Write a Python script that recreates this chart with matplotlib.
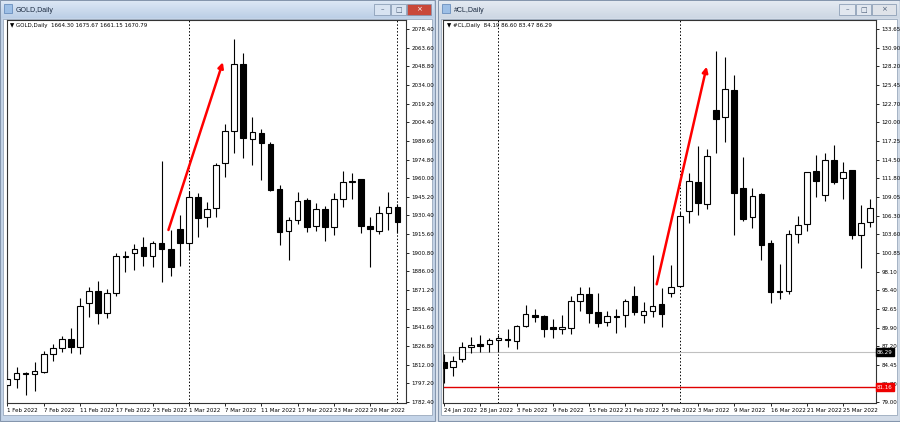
import numpy as np
import matplotlib
matplotlib.use('Agg')
import matplotlib.pyplot as plt
from matplotlib.patches import Rectangle
from matplotlib.colors import LinearSegmentedColormap

# GOLD daily, 1 Feb 2022 .. 1 Apr 2022 (bar index 0..43)
gold_open = [1795.9, 1800.4, 1805.8, 1804.4, 1806.4, 1820.2, 1825.0, 1832.4, 1826.3, 1860.7,
             1870.7, 1852.8, 1869.1, 1898.5, 1900.4, 1905.6, 1898.3, 1908.8, 1904.0, 1919.7,
             1908.3, 1944.8, 1929.0, 1936.1, 1971.8, 1997.5, 2050.4, 1991.1, 1996.1, 1987.1,
             1951.2, 1918.1, 1926.8, 1942.7, 1922.1, 1935.3, 1921.0, 1943.3, 1956.7, 1959.1,
             1922.3, 1918.3, 1932.1, 1936.9]
gold_high = [1807.8, 1809.9, 1806.0, 1813.9, 1822.9, 1828.2, 1835.0, 1841.4, 1864.7, 1873.9,
             1878.7, 1871.8, 1900.9, 1902.5, 1907.5, 1913.6, 1910.2, 1973.9, 1918.9, 1930.8,
             1949.8, 1948.0, 1940.9, 1971.8, 2002.8, 2070.5, 2059.1, 2008.8, 1999.0, 1989.0,
             1954.6, 1929.4, 1949.3, 1944.5, 1940.6, 1938.2, 1948.0, 1965.7, 1963.9, 1959.1,
             1929.0, 1938.2, 1949.3, 1939.5]
gold_low = [1794.5, 1793.3, 1787.9, 1791.4, 1805.2, 1814.9, 1822.3, 1821.0, 1820.2, 1850.1,
            1844.1, 1849.3, 1866.7, 1885.8, 1887.1, 1890.6, 1889.3, 1877.9, 1882.6, 1890.3,
            1903.0, 1913.6, 1921.5, 1929.4, 1960.7, 1980.2, 1975.8, 1970.5, 1958.6, 1950.1,
            1907.0, 1895.1, 1923.6, 1917.5, 1918.1, 1910.4, 1914.9, 1937.4, 1943.3, 1916.7,
            1889.8, 1915.7, 1918.9, 1916.3]
gold_close = [1800.4, 1805.6, 1804.4, 1807.0, 1820.2, 1825.5, 1832.4, 1826.3, 1858.6, 1870.7,
              1852.8, 1869.1, 1898.3, 1897.5, 1903.6, 1898.3, 1908.3, 1903.6, 1889.3, 1908.3,
              1944.8, 1928.2, 1935.3, 1970.5, 1997.5, 2050.4, 1991.7, 1996.4, 1988.2, 1950.6,
              1917.5, 1926.8, 1942.1, 1921.0, 1935.3, 1921.0, 1943.5, 1957.2, 1958.0, 1922.3,
              1919.4, 1932.1, 1936.9, 1925.0]
gold_dates = ['1 Feb 2022', '7 Feb 2022', '11 Feb 2022', '17 Feb 2022', '23 Feb 2022', '1 Mar 2022',
              '7 Mar 2022', '11 Mar 2022', '17 Mar 2022', '23 Mar 2022', '29 Mar 2022']
gold_prices = ['1782.40', '1797.20', '1812.00', '1826.80', '1841.60', '1856.40', '1871.20',
               '1886.00', '1900.80', '1915.60', '1930.40', '1945.20', '1960.00', '1974.80',
               '1989.60', '2004.40', '2019.20', '2034.00', '2048.80', '2063.60', '2078.40']
gold_seps = [20, 43]
gold_arrow = [(17.75, 1918.9), (23.75, 2052.0)]

# #CL daily, 24 Jan 2022 .. end of Mar 2022 (bar index 0..47)
cl_open = [84.81, 84.08, 85.25, 87.06, 87.50, 87.45, 88.08, 88.27, 87.94, 90.13,
           91.75, 91.60, 89.99, 89.74, 89.88, 93.84, 94.82, 92.14, 90.76, 91.60,
           91.70, 94.53, 91.70, 92.38, 93.31, 94.92, 96.04, 107.03, 111.28, 108.01,
           121.78, 120.71, 124.71, 110.40, 106.06, 109.43, 102.25, 95.31, 95.31, 103.57,
           105.08, 112.84, 109.33, 114.46, 111.82, 112.95, 103.47, 105.42]
cl_high = [86.03, 85.74, 87.83, 88.48, 88.77, 88.33, 88.81, 89.65, 90.32, 93.17,
           92.58, 91.75, 91.12, 91.75, 94.57, 95.80, 95.80, 95.01, 92.33, 92.62,
           94.13, 95.99, 93.69, 100.54, 95.66, 99.03, 106.88, 112.51, 116.51, 116.02,
           130.47, 129.50, 126.91, 114.94, 110.31, 109.58, 102.73, 99.17, 104.20, 106.25,
           112.74, 115.19, 115.53, 116.61, 114.12, 112.95, 107.86, 108.74]
cl_low = [81.74, 82.85, 84.90, 86.13, 86.37, 86.32, 86.37, 87.10, 86.72, 89.94,
          90.76, 88.48, 88.42, 88.92, 88.92, 92.38, 90.62, 89.94, 90.13, 89.06,
          90.03, 91.75, 90.62, 91.41, 90.03, 94.43, 95.80, 105.18, 106.40, 107.23,
          115.53, 117.14, 103.47, 105.52, 104.45, 99.80, 93.46, 94.05, 94.82, 102.34,
          104.05, 108.99, 108.45, 110.94, 108.70, 102.84, 98.59, 104.60]
cl_close = [84.02, 85.05, 87.10, 87.31, 87.25, 88.08, 88.37, 88.04, 90.18, 91.89,
            91.50, 89.74, 89.74, 89.99, 93.80, 94.78, 92.08, 90.53, 91.64, 91.45,
            93.84, 92.23, 92.33, 93.02, 91.89, 95.80, 106.29, 111.38, 108.11, 115.04,
            120.42, 124.81, 109.58, 105.85, 109.14, 102.00, 95.16, 95.16, 103.57, 104.93,
            112.65, 111.38, 114.41, 111.28, 112.65, 103.47, 105.18, 107.38]
cl_dates = ['24 Jan 2022', '28 Jan 2022', '3 Feb 2022', '9 Feb 2022', '15 Feb 2022', '21 Feb 2022',
            '25 Feb 2022', '3 Mar 2022', '9 Mar 2022', '16 Mar 2022', '21 Mar 2022', '25 Mar 2022']
cl_prices = ['79.00', '81.70', '84.45', '87.20', '89.90', '92.65', '95.40', '98.10', '100.85',
             '103.60', '106.30', '109.05', '111.80', '114.50', '117.25', '120.00', '122.70',
             '125.45', '128.20', '130.90', '133.65']
cl_seps = [6, 26]
cl_arrow = [(23.45, 96.24), (28.96, 128.13)]
cl_bid = 86.29
cl_level = 81.16

SMALL = ['Liberation Sans Narrow', 'DejaVu Sans']
FS = 4.0

fig = plt.figure(figsize=(9, 4.22), dpi=100, facecolor='#dfe7f1')

# window chrome, drawn in pixel coordinates
bg = fig.add_axes([0, 0, 1, 1])
bg.axis('off')


def window(x0, x1, title, active):
    frame = '#c4d4e8' if active else '#d3dce8'
    bg.add_patch(Rectangle((x0, 0), x1 - x0, 421, facecolor=frame, edgecolor='#8596ad', lw=0.8))
    if active:
        cm = LinearSegmentedColormap.from_list('t', ['#dce7f5', '#bccfe6'])
    else:
        cm = LinearSegmentedColormap.from_list('t', ['#e4eaf2', '#cdd7e3'])
    grad = np.linspace(0, 1, 30).reshape(-1, 1)
    bg.imshow(grad, cmap=cm, extent=(x0 + 1, x1 - 1, 18, 1), aspect='auto', zorder=1)
    bg.add_patch(Rectangle((x0 + 3, 19), x1 - x0 - 6, 396, facecolor='white',
                           edgecolor='#9aa9bd', lw=0.6, zorder=2))
    # icon + title
    bg.add_patch(Rectangle((x0 + 4, 4), 8, 9, facecolor='#9dbfe6', edgecolor='#5a82b5', lw=0.5, zorder=3))
    bg.text(x0 + 16, 10, title, fontsize=5, va='center', color='#1b2a40',
            family=['Liberation Sans', 'DejaVu Sans'], zorder=3)
    # min / max / close buttons
    btn = '#d8e3f1' if active else '#e1e7ef'
    close = '#c9483a' if active else '#dfe3e9'
    for bx, bw, fc, glyph in [(x1 - 61, 16, btn, '\u2013'), (x1 - 44, 15, btn, '\u25a1'),
                              (x1 - 28, 24, close, '\u00d7')]:
        bg.add_patch(Rectangle((bx, 4), bw, 11, facecolor=fc, edgecolor='#7f93ad', lw=0.5, zorder=3))
        bg.text(bx + bw / 2, 9.6, glyph, fontsize=5, ha='center', va='center', zorder=4,
                color='white' if (active and fc == close) else '#4a5d78')


window(0, 435, 'GOLD,Daily', True)
window(438, 900, '#CL,Daily', False)
bg.set_xlim(0, 900)
bg.set_ylim(422, 0)


def candles(ax, o, h, l, c, dates, prices, seps, info, arrow):
    o, h, l, c = map(np.array, (o, h, l, c))
    x = np.arange(len(o))
    ax.vlines(x, l, h, colors='black', lw=0.8, zorder=2)
    face = np.where(c >= o, 'white', 'black')
    ax.bar(x, np.abs(c - o), bottom=np.minimum(o, c), width=0.62, color=face,
           edgecolor='black', lw=0.8, zorder=3)
    for s in seps:
        ax.axvline(s, color='black', lw=0.7, linestyle=(0, (1.5, 2)), zorder=1)
    ax.set_xticks(x[::4][:len(dates)])
    ax.set_xticklabels(dates, ha='left', family=SMALL, fontsize=FS)
    ax.yaxis.tick_right()
    ax.set_yticks([float(p) for p in prices])
    ax.set_yticklabels(prices, family=SMALL, fontsize=FS)
    ax.tick_params(axis='x', length=2, width=0.6, pad=1.5)
    ax.tick_params(axis='y', length=2.5, width=0.6, pad=1.5)
    for sp in ax.spines.values():
        sp.set_color('#333333')
        sp.set_linewidth(0.8)
    ax.text(0.008, 0.992, info, transform=ax.transAxes, va='top', ha='left',
            fontsize=FS, family=SMALL)
    ax.annotate('', xy=arrow[1], xytext=arrow[0],
                arrowprops=dict(arrowstyle='-|>', color='#ff0000', lw=1.8, mutation_scale=8,
                                shrinkA=0, shrinkB=0), zorder=5)


axL = fig.add_axes([7 / 900, 19 / 422, 398.7 / 900, 383 / 422])
candles(axL, gold_open, gold_high, gold_low, gold_close, gold_dates, gold_prices, gold_seps,
        '\u25bc GOLD,Daily  1664.30 1675.67 1661.15 1670.79', gold_arrow)
axL.set_xlim(-0.05, 43.91)
axL.set_ylim(1781.6, 2085.5)

axR = fig.add_axes([443.3 / 900, 19 / 422, 432.4 / 900, 383 / 422])
candles(axR, cl_open, cl_high, cl_low, cl_close, cl_dates, cl_prices, cl_seps,
        '\u25bc #CL,Daily  84.19 86.60 83.47 86.29', cl_arrow)
axR.set_xlim(-0.08, 47.6)
axR.set_ylim(78.85, 134.97)
axR.axhline(cl_bid, color='#c0c0c0', lw=0.8, zorder=1)
axR.axhline(cl_level, color='#e00000', lw=1.0, zorder=1)
for val, fc in [(cl_bid, 'black'), (cl_level, '#ee0000')]:
    axR.text(1.003, val, f'{val:.2f}', transform=axR.get_yaxis_transform(), ha='left', va='center',
             fontsize=FS, family=SMALL, color='white', zorder=6, clip_on=False,
             bbox=dict(facecolor=fc, edgecolor=fc, pad=0.9))

fig.savefig('out.png', dpi=100, facecolor=fig.get_facecolor())
